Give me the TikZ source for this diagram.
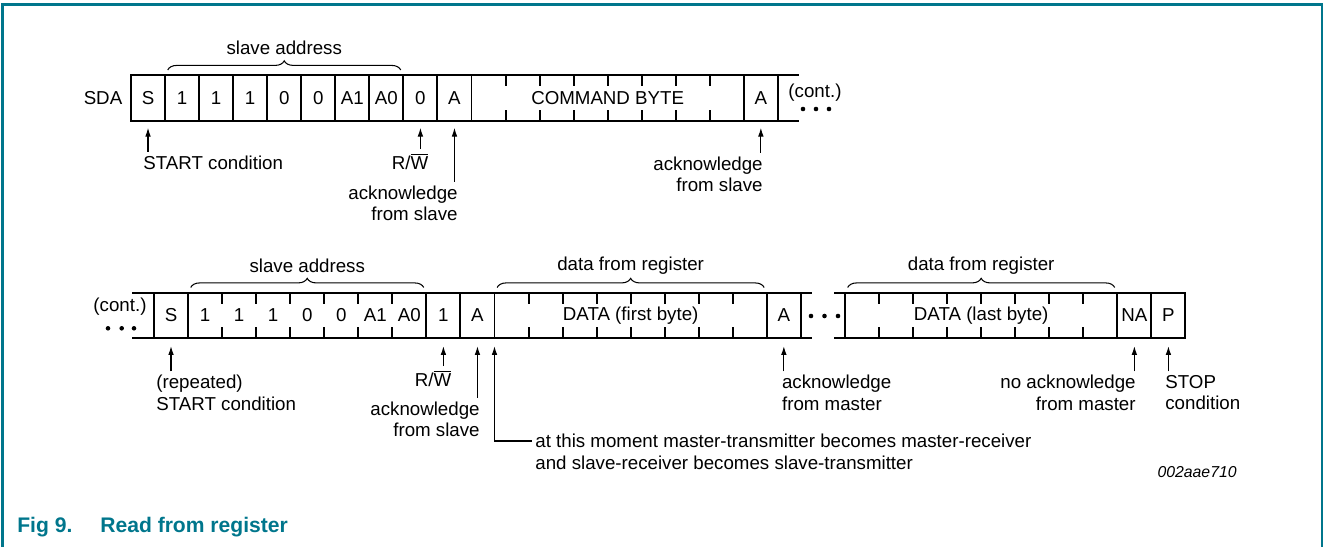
\documentclass[tikz,border=0pt]{standalone}
\usepackage{fontspec}
\setmainfont{Liberation Sans}
\usetikzlibrary{arrows.meta}
\usetikzlibrary{decorations.pathreplacing}
\definecolor{nxpteal}{RGB}{0,118,140}

\begin{document}
\begin{tikzpicture}[x=0.02cm, y=-0.02cm,
  font=\fontsize{10.65}{12.3}\selectfont,
  every node/.style={inner sep=2pt},
  cell/.style={draw, line width=1.1pt, anchor=west, inner sep=0pt, outer sep=0pt,
    minimum width=0.681cm, minimum height=0.91cm},
  bit/.style={cell, draw=none},
  wide/.style={cell, minimum width=5.448cm},
  wire/.style={line width=1.1pt},
  arr/.style={line width=0.6pt, -{Latex[length=5pt,width=3.2pt]}},
  brc/.style={line width=0.6pt, decorate, decoration={brace, amplitude=5.2pt}}]

\useasboundingbox (0,0) rectangle (1325,547);
\draw[nxpteal, line width=1.2pt] (2.5,547) -- (2.5,4.5) -- (1322,4.5) -- (1322,547);

% first frame: write command byte
\node (sda) at (103,98) {SDA};
\node[cell] (c-s) at (131,98) {S};
\foreach \b [count=\i] in {1,1,1,0,0,A1,A0,0,A}
	\node[cell] (c-\i) at ({131+\i*34.05},98) {\b};
\node[wide] (cmd) at (c-9.east) {COMMAND BYTE};
\foreach \k in {1,...,7}
	\draw[wire] (cmd.north west) ++({\k*34.05},0) -- ++(0,11)
		(cmd.south west) ++({\k*34.05},0) -- ++(0,-11);
\node[cell] (c-ack) at (cmd.east) {A};
\draw[wire] (c-ack.north east) -- ++(21,0) (c-ack.south east) -- ++(21,0);
\node (cont1) at (815,93) {(cont.)};
\foreach \x in {803,816,829}
	\fill (\x,109) circle (1.3pt);

\draw[brc] ([xshift=1.5pt,yshift=3pt]c-1.north west) -- ([xshift=-1.5pt,yshift=3pt]c-7.north east)
	node[midway, yshift=12.5pt] (adr1) {slave address};

\node[anchor=north west] (lstart1) at (139.5,151.7) {START condition};
\node[anchor=north] (lrw1) at (410,149) {R/$\overline{\mbox{W}}$};
\node[anchor=north east, align=right] (lack1) at (461.5,181.7) {acknowledge\\from slave};
\node[anchor=north east, align=right] (lack2) at (766.5,152.7) {acknowledge\\from slave};
\draw[arr] (lstart1.north -| c-s.south) -- ([yshift=-4pt]c-s.south);
\draw[arr] (lrw1.north -| c-8.south) -- ([yshift=-4pt]c-8.south);
\draw[arr] (lack1.north -| c-9.south) -- ([yshift=-4pt]c-9.south);
\draw[arr] (lack2.north -| c-ack.south) -- ([yshift=-4pt]c-ack.south);

% second frame: read data bytes
\node (cont2) at (120,306.7) {(cont.)};
\foreach \x in {108,121.7,134}
	\fill (\x,328.3) circle (1.3pt);
\node[cell] (d-s) at (154,315.5) {S};
\draw[wire] (d-s.north west) -- ++(-22,0) (d-s.south west) -- ++(-22,0);
\foreach \b [count=\i] in {1,1,1,0,0,A1,A0}
	\node[bit] (d-\i) at ({154+\i*34.05},315.5) {\b};
\draw[wire] (d-1.north west) rectangle (d-7.south east);
\foreach \i in {1,...,6}
	\draw[wire] (d-\i.north east) -- ++(0,11) (d-\i.south east) -- ++(0,-11);
\node[cell] (d-rw) at (d-7.east) {1};
\node[cell] (d-ack) at (d-rw.east) {A};
\node[wide] (dat1) at (d-ack.east) {DATA (first byte)};
\node[cell] (d-am) at (dat1.east) {A};
\draw[wire] (d-am.north east) -- ++(11,0) (d-am.south east) -- ++(11,0);
\foreach \x in {811,824.5,838}
	\fill (\x,316) circle (1.3pt);
\node[wide] (dat2) at (845,315.5) {DATA (last byte)};
\draw[wire] (dat2.north west) -- ++(-11,0) (dat2.south west) -- ++(-11,0);
\node[cell] (d-na) at (dat2.east) {NA};
\node[cell] (d-p) at (d-na.east) {P};
\foreach \k in {1,...,7}
	\draw[wire] (dat1.north west) ++({\k*34.05},0) -- ++(0,11)
		(dat1.south west) ++({\k*34.05},0) -- ++(0,-11)
		(dat2.north west) ++({\k*34.05},0) -- ++(0,11)
		(dat2.south west) ++({\k*34.05},0) -- ++(0,-11);

\draw[brc] ([xshift=1.5pt,yshift=3pt]d-1.north west) -- ([xshift=-1.5pt,yshift=3pt]d-7.north east)
	node[midway, yshift=12.5pt] (adr2) {slave address};
\draw[brc] ([xshift=1.5pt,yshift=3pt]dat1.north west) -- ([xshift=-1.5pt,yshift=3pt]dat1.north east)
	node[midway, yshift=12.5pt] (reg1) {data from register};
\draw[brc] ([xshift=1.5pt,yshift=3pt]dat2.north west) -- ([xshift=-1.5pt,yshift=3pt]dat2.north east)
	node[midway, yshift=12.5pt] (reg2) {data from register};

\node[anchor=north west, align=left] (lstart2) at (152.5,371.4) {(repeated)\\START condition};
\node[anchor=north] (lrw2) at (433,366.2) {R/$\overline{\mbox{W}}$};
\node[anchor=north east, align=right] (lack3) at (483.5,397.7) {acknowledge\\from slave};
\node[anchor=north west, align=left] (lackm) at (778.2,371.4) {acknowledge\\from master};
\node[anchor=north east, align=right] (lnack) at (1139.5,371.4) {no acknowledge\\from master};
\node[anchor=north west, align=left] (lstop) at (1161.5,371.4) {STOP\\condition};
\node[anchor=west] (lmom1) at (531.5,441) {at this moment master-transmitter becomes master-receiver};
\node[anchor=west] (lmom2) at (531.5,462.7) {and slave-receiver becomes slave-transmitter};
\draw[arr] (lstart2.north -| d-s.south) -- ([yshift=-4.5pt]d-s.south);
\draw[arr] (lrw2.north -| d-rw.south) -- ([yshift=-4.5pt]d-rw.south);
\draw[arr] (lack3.north -| d-ack.south) -- ([yshift=-4.5pt]d-ack.south);
\draw[arr] (lackm.north -| d-am.south) -- ([yshift=-4.5pt]d-am.south);
\draw[arr] (lnack.north -| d-na.south) -- ([yshift=-4.5pt]d-na.south);
\draw[arr] (lstop.north -| d-p.south) -- ([yshift=-4.5pt]d-p.south);
\draw[arr] (lmom1.west) -| ([yshift=-4.5pt]dat1.south west);

\node[anchor=east, font=\fontsize{9}{11}\selectfont\itshape] (figid) at (1240.5,472) {002aae710};
\node[anchor=base west, font=\fontsize{12}{14}\selectfont\bfseries, text=nxpteal] (figno) at (13.5,532.6) {Fig 9.};
\node[anchor=base west, font=\fontsize{12}{14}\selectfont\bfseries, text=nxpteal] (figtitle) at (96.5,532.6) {Read from register};
\end{tikzpicture}
\end{document}
